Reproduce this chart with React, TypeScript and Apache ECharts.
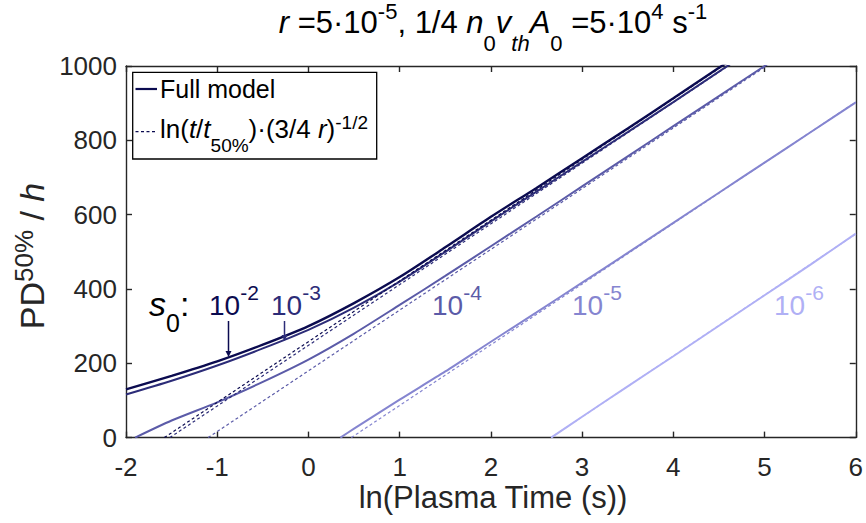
import React, { useEffect, useRef } from 'react';
import * as echarts from 'echarts';

const FONT = "'Liberation Sans', Arial, Helvetica, sans-serif";
const AXIS_COLOR = '#262626';

// axis ranges / ticks
const xMin = -2, xMax = 6, xStep = 1;
const yMin = 0, yMax = 1000, yStep = 200;

// s0 values and colours
const s0Names = ['1e-2', '1e-3', '1e-4', '1e-5', '1e-6'];
const s0Exp = ['-2', '-3', '-4', '-5', '-6'];
const colors = ['#0b0b50', '#2c2c78', '#5b5ba8', '#8585d0', '#b0b0f5'];

// Full model curves (ln t, PD/h)
const full1e2X = [-2, -1.5, -1, -0.5, 0, 0.5, 1, 1.5, 2, 2.5, 3, 3.5, 4, 4.5, 5];
const full1e2Y = [130, 166, 205, 250, 300, 362, 432, 512, 594, 672, 752, 832, 913, 995, 1075];
const full1e3X = [-2, -1.5, -1, -0.5, 0, 0.5, 1, 1.5, 2, 2.5, 3, 3.5, 4, 4.5, 5];
const full1e3Y = [116, 153, 194, 240, 290, 350, 420, 500, 582, 662, 742, 822, 903, 985, 1066];
const full1e4X = [-1.9, -1.5, -1, -0.5, 0, 0.5, 1, 1.5, 2, 2.5, 3, 3.5, 4, 4.5, 5, 5.5];
const full1e4Y = [0, 46, 95, 150, 210, 280, 357, 435, 515, 595, 676, 757, 838, 919, 1000, 1080];
const full1e5X = [0.35, 0.5, 1, 1.5, 2, 2.5, 3, 3.5, 4, 4.5, 5, 5.5, 6];
const full1e5Y = [0, 24, 102, 178, 258, 337, 417, 497, 578, 659, 740, 821, 902];
const full1e6X = [2.66, 3, 3.5, 4, 4.5, 5, 5.5, 6];
const full1e6Y = [0, 56, 138, 219, 301, 383, 465, 549];

// Asymptotes ln(t/t50%)·(3/4 r)^-1/2
const asym1e2X = [-1.58, 4.54];
const asym1e2Y = [0, 1000];
const asym1e3X = [-1.52, 4.6];
const asym1e3Y = [0, 1000];
const asym1e4X = [-1.1, 5.02];
const asym1e4Y = [0, 1000];
const asym1e5X = [0.47, 6];
const asym1e5Y = [0, 903];
const asym1e6X = [2.66, 6];
const asym1e6Y = [0, 548];

const fullSets = [
  [full1e2X, full1e2Y],
  [full1e3X, full1e3Y],
  [full1e4X, full1e4Y],
  [full1e5X, full1e5Y],
  [full1e6X, full1e6Y],
];
const asymSets = [
  [asym1e2X, asym1e2Y],
  [asym1e3X, asym1e3Y],
  [asym1e4X, asym1e4Y],
  [asym1e5X, asym1e5Y],
  [asym1e6X, asym1e6Y],
];

type Part = [string, string];

function richStyles(fs: number, ss: number, L: number, hSup: number, hSub: number, color: string) {
  return {
    n: { fontSize: fs, fontFamily: FONT, lineHeight: L, fill: color },
    i: { fontSize: fs, fontFamily: FONT, fontStyle: 'italic', lineHeight: L, fill: color },
    sup: { fontSize: ss, fontFamily: FONT, verticalAlign: 'top', height: hSup, lineHeight: hSup, fill: color },
    sub: { fontSize: ss, fontFamily: FONT, verticalAlign: 'bottom', height: hSub, lineHeight: hSub, fill: color },
    subi: { fontSize: ss, fontFamily: FONT, fontStyle: 'italic', verticalAlign: 'bottom', height: hSub, lineHeight: hSub, fill: color },
  };
}

function richText(
  x: number,
  y: number,
  parts: Part[],
  styles: any,
  align: string,
  vAlign: string,
  color: string,
  rotation = 0
) {
  return {
    type: 'text',
    x,
    y,
    rotation,
    z: 100,
    style: {
      text: parts.map((p) => `{${p[1]}|${p[0]}}`).join(''),
      rich: styles,
      textAlign: align,
      textVerticalAlign: vAlign,
      fill: color,
      fontFamily: FONT,
    },
  };
}

export default function App() {
  const ref = useRef<HTMLDivElement>(null);
  useEffect(() => {
    const chart = echarts.init(ref.current!, null, { renderer: 'svg' });
    const series: any[] = [];
    fullSets.forEach((s, k) => {
      series.push({
        name: 'full ' + s0Names[k],
        type: 'line',
        xAxisIndex: 0,
        yAxisIndex: 0,
        data: s[0].map((x, j) => [x, s[1][j]]),
        showSymbol: false,
        smooth: 0.25,
        clip: true,
        z: 10 - k,
        lineStyle: { color: colors[k], width: k === 0 ? 2.4 : 2 },
        silent: true,
      });
    });
    asymSets.forEach((s, k) => {
      series.push({
        name: 'asym ' + s0Names[k],
        type: 'line',
        xAxisIndex: 0,
        yAxisIndex: 0,
        data: s[0].map((x, j) => [x, s[1][j]]),
        showSymbol: false,
        clip: true,
        z: 20,
        lineStyle: { color: colors[k], width: 1.2, type: [3, 2.5] },
        silent: true,
      });
    });

    const axisCommon = {
      type: 'value',
      splitLine: { show: false },
      axisLine: { show: true, onZero: false, lineStyle: { color: AXIS_COLOR, width: 1.4 } },
      axisTick: { show: true, inside: true, length: 6, lineStyle: { color: AXIS_COLOR, width: 1.4 } },
    };

    const graphics: any[] = [];

    // title
    graphics.push(
      richText(
        493,
        0,
        [
          ['r', 'i'],
          [' =5·10', 'n'],
          ['-5', 'sup'],
          [', 1/4 ', 'n'],
          ['n', 'i'],
          ['0', 'sub'],
          ['v', 'i'],
          ['th', 'subi'],
          ['A', 'i'],
          ['0', 'sub'],
          [' =5·10', 'n'],
          ['4', 'sup'],
          [' s', 'n'],
          ['-1', 'sup'],
        ],
        richStyles(31, 22, 45, 22, 4, '#000'),
        'center',
        'top',
        '#000'
      )
    );

    // y axis name
    graphics.push(
      richText(
        32,
        256,
        [
          ['PD', 'n'],
          ['50%', 'sup'],
          [' / ', 'n'],
          ['h', 'i'],
        ],
        richStyles(34, 26, 50, 34, 10, AXIS_COLOR),
        'center',
        'middle',
        AXIS_COLOR,
        Math.PI / 2
      )
    );

    // x axis name
    graphics.push({
      type: 'text',
      x: 493,
      y: 497,
      z: 100,
      style: {
        text: 'ln(Plasma Time (s))',
        fontSize: 31,
        fontFamily: FONT,
        fill: AXIS_COLOR,
        textAlign: 'center',
        textVerticalAlign: 'middle',
      },
    });

    // legend
    graphics.push({
      type: 'rect',
      z: 90,
      shape: { x: 132.7, y: 72.3, width: 244, height: 86.7 },
      style: { fill: '#fff', stroke: '#000', lineWidth: 1.3 },
    });
    graphics.push({
      type: 'line',
      z: 95,
      shape: { x1: 135.5, y1: 89, x2: 157, y2: 89 },
      style: { stroke: colors[0], lineWidth: 2.2 },
    });
    graphics.push({
      type: 'text',
      x: 160,
      y: 89,
      z: 100,
      style: {
        text: 'Full model',
        fontSize: 25,
        fontFamily: FONT,
        fill: '#000',
        textAlign: 'left',
        textVerticalAlign: 'middle',
      },
    });
    graphics.push({
      type: 'line',
      z: 95,
      shape: { x1: 135.5, y1: 131.7, x2: 157, y2: 131.7 },
      style: { stroke: colors[0], lineWidth: 1.2, lineDash: [3, 2.5] },
    });
    graphics.push(
      richText(
        160,
        109,
        [
          ['ln(', 'n'],
          ['t', 'i'],
          ['/', 'n'],
          ['t', 'i'],
          ['50%', 'sub'],
          [')·(3/4 ', 'n'],
          ['r', 'i'],
          [')', 'n'],
          ['-1/2', 'sup'],
        ],
        richStyles(26, 19, 40, 26, 7, '#000'),
        'left',
        'top',
        '#000'
      )
    );

    // s0 annotation
    graphics.push(
      richText(
        149,
        278.6,
        [
          ['s', 'i'],
          ['0', 'sub'],
          [':', 'n'],
        ],
        richStyles(34, 25, 50, 20, 12, '#000'),
        'left',
        'top',
        '#000'
      )
    );

    // curve labels 10^-k
    const labelX = [210, 272, 433, 573, 775];
    labelX.forEach((lx, k) => {
      graphics.push(
        richText(
          lx - 1,
          285,
          [
            ['10', 'n'],
            [s0Exp[k], 'sup'],
          ],
          richStyles(28, 21, 40, 14, 10, colors[k]),
          'left',
          'top',
          colors[k]
        )
      );
    });

    // arrows for 10^-2 and 10^-3
    const arrows = [
      { x: 228.5, y1: 321, y2: 357, c: colors[0] },
      { x: 284.5, y1: 321, y2: 341, c: colors[1] },
    ];
    arrows.forEach((a) => {
      graphics.push({
        type: 'line',
        z: 100,
        shape: { x1: a.x, y1: a.y1, x2: a.x, y2: a.y2 - 4 },
        style: { stroke: a.c, lineWidth: 1.5 },
      });
      graphics.push({
        type: 'polygon',
        z: 100,
        shape: { points: [[a.x - 3, a.y2 - 6], [a.x + 3, a.y2 - 6], [a.x, a.y2]] },
        style: { fill: a.c },
      });
    });

    const option: any = {
      animation: false,
      backgroundColor: '#fff',
      grid: { left: 126, right: 7, top: 66, bottom: 85.4, containLabel: false },
      xAxis: [
        {
          ...axisCommon,
          position: 'bottom',
          min: xMin,
          max: xMax,
          interval: xStep,
          axisLabel: { show: true, fontSize: 26, fontFamily: FONT, color: AXIS_COLOR, margin: 16, formatter: (v: number) => String(v) },
        },
        {
          ...axisCommon,
          position: 'top',
          min: xMin,
          max: xMax,
          interval: xStep,
          axisLabel: { show: false },
        },
      ],
      yAxis: [
        {
          ...axisCommon,
          position: 'left',
          min: yMin,
          max: yMax,
          interval: yStep,
          axisLabel: { show: true, fontSize: 26, fontFamily: FONT, color: AXIS_COLOR, margin: 9, formatter: (v: number) => String(v) },
        },
        {
          ...axisCommon,
          position: 'right',
          min: yMin,
          max: yMax,
          interval: yStep,
          axisLabel: { show: false },
        },
      ],
      series,
      graphic: { elements: graphics },
    };
    chart.setOption(option);
    return () => chart.dispose();
  }, []);
  return (
    <div
      ref={ref}
      style={{ position: 'fixed', left: 0, top: 0, width: 866, height: 523, background: '#fff' }}
    />
  );
}
